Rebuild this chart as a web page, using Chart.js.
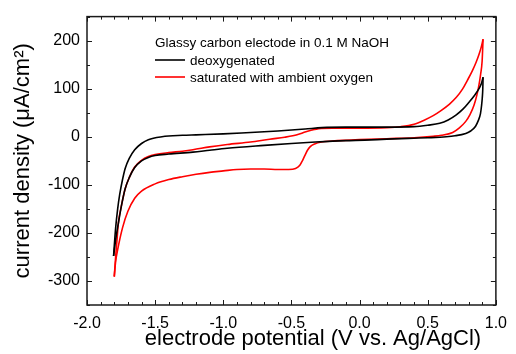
<!DOCTYPE html>
<html>
<head>
<meta charset="utf-8">
<script src="https://cdn.jsdelivr.net/npm/chart.js@4.4.0/dist/chart.umd.min.js"></script>
<style>
  html, body { margin: 0; padding: 0; background: #fff; }
  canvas { display: block; }
</style>
</head>
<body>
<canvas id="cv" width="516" height="354"></canvas>
<script>
// potential (V vs. Ag/AgCl) and current density (uA/cm2)
// each loop is split into the forward (upper) and return (lower) sweep

const blackFwdV = [-1.805, -1.79, -1.775, -1.76, -1.74, -1.72, -1.69, -1.65, -1.60, -1.55, -1.45, -1.30, -1.20, -1.00, -0.80, -0.60, -0.40, -0.276, -0.10, 0.036, 0.20, 0.40, 0.50, 0.588, 0.65, 0.707, 0.76, 0.803, 0.84, 0.876, 0.895, 0.906];
const blackFwdJ = [-248, -190, -150, -120, -90, -66, -45, -27, -14, -6, 0, 3, 4, 6, 9, 12, 16, 19, 20, 20, 20, 21, 24, 28, 35, 45, 58, 72, 85, 100, 112, 124];

const blackRevV = [0.906, 0.904, 0.90, 0.895, 0.887, 0.87, 0.851, 0.815, 0.779, 0.70, 0.636, 0.50, 0.396, 0.20, 0.036, -0.10, -0.324, -0.50, -0.70, -0.971, -1.10, -1.223, -1.40, -1.50, -1.55, -1.60, -1.65, -1.69, -1.72, -1.745, -1.77, -1.79, -1.805];
const blackRevJ = [124, 100, 80, 65, 48, 33, 22, 12, 7, 2, 0, -2, -3, -5, -7, -8, -11, -14, -18, -24, -28, -32, -36, -39, -43, -50, -64, -85, -108, -140, -180, -215, -248];

const redFwdV = [-1.80, -1.79, -1.78, -1.77, -1.745, -1.72, -1.69, -1.65, -1.60, -1.55, -1.50, -1.40, -1.30, -1.223, -1.10, -0.971, -0.80, -0.66, -0.55, -0.49, -0.43, -0.40, -0.35, -0.30, -0.20, 0.00, 0.20, 0.30, 0.40, 0.47, 0.54, 0.60, 0.66, 0.71, 0.755, 0.79, 0.827, 0.855, 0.876, 0.893, 0.906];
const redFwdJ = [-291, -250, -215, -180, -140, -108, -85, -63, -49, -41, -37, -33, -30, -27, -21, -16, -11, -5, -1, 2, 7, 10, 14, 17, 18, 18, 19, 21, 26, 34, 44, 55, 68, 82, 99, 117, 137, 155, 171, 187, 203];

const redRevV = [0.906, 0.899, 0.888, 0.876, 0.86, 0.84, 0.81, 0.779, 0.73, 0.683, 0.60, 0.54, 0.40, 0.20, 0.00, -0.20, -0.28, -0.33, -0.36, -0.38, -0.40, -0.42, -0.44, -0.47, -0.52, -0.60, -0.70, -0.80, -0.90, -1.00, -1.10, -1.20, -1.30, -1.40, -1.50, -1.60, -1.65, -1.70, -1.74, -1.775, -1.79, -1.80];
const redRevJ = [203, 157, 130, 108, 86, 66, 46, 32, 18, 9, 3, 1, -2, -4, -6, -9, -11, -15, -20, -27, -38, -50, -60, -66, -68, -68, -67, -67, -68, -71, -74, -78, -83, -89, -98, -113, -128, -155, -190, -235, -260, -291];

const xTicks = [-2.0, -1.5, -1.0, -0.5, 0.0, 0.5, 1.0];
const yTicks = [-300, -200, -100, 0, 100, 200];

const legendTitle = 'Glassy carbon electode in 0.1 M NaOH';
const legendLabels = ['deoxygenated', 'saturated with ambient oxygen'];
const seriesColors = ['#000000', '#ff0000'];
const xTitle = 'electrode potential (V vs. Ag/AgCl)';
const yTitle = 'current density (\u03bcA/cm\u00b2)';

const FONT = '"Liberation Sans", Arial, Helvetica, sans-serif';
Chart.defaults.font.family = FONT;
Chart.defaults.color = '#000';

function pts(vs, js) {
  return vs.map((v, i) => ({ x: v, y: js[i] }));
}

function line(label, data, color) {
  return {
    label: label,
    data: data,
    borderColor: color,
    backgroundColor: color,
    borderWidth: 1.6,
    pointRadius: 0,
    showLine: true,
    fill: false,
    cubicInterpolationMode: 'monotone'
  };
}

// frame with inward ticks on all four sides, the in-plot legend and the x title
const decorations = {
  id: 'decorations',
  afterDatasetsDraw(chart) {
    const { ctx, chartArea: a, scales: { x, y } } = chart;
    ctx.save();
    ctx.strokeStyle = '#1a1a1a';
    ctx.lineWidth = 1;
    ctx.beginPath();
    for (let i = -20; i <= 10; i++) {
      const px = Math.round(x.getPixelForValue(i / 10)) + 0.5;
      const len = i % 5 === 0 ? 5 : 3;
      ctx.moveTo(px, a.bottom); ctx.lineTo(px, a.bottom - len);
      ctx.moveTo(px, a.top); ctx.lineTo(px, a.top + len);
    }
    for (let j = -7; j <= 5; j++) {
      const py = Math.round(y.getPixelForValue(j * 50)) + 0.5;
      const len = j % 2 === 0 ? 5 : 3;
      ctx.moveTo(a.left, py); ctx.lineTo(a.left + len, py);
      ctx.moveTo(a.right, py); ctx.lineTo(a.right - len, py);
    }
    ctx.stroke();

    ctx.lineWidth = 1.5;
    ctx.strokeRect(a.left, a.top, a.right - a.left, a.bottom - a.top);

    // legend
    ctx.fillStyle = '#000';
    ctx.font = '13.5px ' + FONT;
    ctx.textAlign = 'left';
    ctx.textBaseline = 'alphabetic';
    ctx.fillText(legendTitle, 155, 47);
    legendLabels.forEach((lab, k) => {
      const ly = 60 + k * 17;
      ctx.strokeStyle = seriesColors[k];
      ctx.lineWidth = 1.6;
      ctx.beginPath();
      ctx.moveTo(155, ly); ctx.lineTo(185, ly);
      ctx.stroke();
      ctx.fillText(lab, 190, ly + 4.5);
    });

    // x axis title
    ctx.font = '22px ' + FONT;
    ctx.textAlign = 'center';
    ctx.fillText(xTitle, 313, 345);
    ctx.restore();
  }
};

new Chart(document.getElementById('cv').getContext('2d'), {
  type: 'scatter',
  data: {
    datasets: [
      line(legendLabels[0], pts(blackFwdV, blackFwdJ), seriesColors[0]),
      line(legendLabels[0], pts(blackRevV, blackRevJ), seriesColors[0]),
      line(legendLabels[1], pts(redFwdV, redFwdJ), seriesColors[1]),
      line(legendLabels[1], pts(redRevV, redRevJ), seriesColors[1])
    ]
  },
  options: {
    responsive: false,
    animation: false,
    layout: { padding: { top: 14, right: 12, left: 0, bottom: 0 } },
    plugins: {
      legend: { display: false },
      tooltip: { enabled: false }
    },
    scales: {
      x: {
        type: 'linear',
        position: 'bottom',
        min: -2.0,
        max: 1.0,
        afterBuildTicks: s => { s.ticks = xTicks.map(v => ({ value: v })); },
        afterFit: s => { s.height = 49; },
        grid: { display: false, drawTicks: false },
        border: { display: false },
        ticks: {
          callback: v => v.toFixed(1),
          font: { size: 16 },
          color: '#000',
          padding: 9,
          maxRotation: 0,
          autoSkip: false
        }
      },
      y: {
        type: 'linear',
        position: 'left',
        min: -350,
        max: 250,
        afterBuildTicks: s => { s.ticks = yTicks.map(v => ({ value: v })); },
        afterFit: s => { s.width = 87; },
        grid: { display: false, drawTicks: false },
        border: { display: false },
        ticks: {
          callback: v => String(v),
          font: { size: 16 },
          color: '#000',
          padding: 7
        },
        title: {
          display: true,
          text: yTitle,
          font: { size: 22 },
          color: '#000',
          padding: { top: 10, bottom: 0 }
        }
      }
    }
  },
  plugins: [decorations]
});
</script>
</body>
</html>
